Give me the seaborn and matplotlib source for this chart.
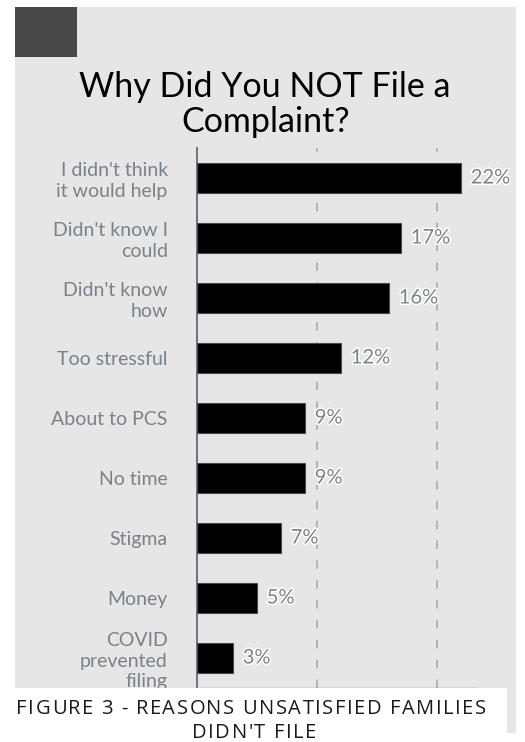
import matplotlib
matplotlib.use("Agg")
import matplotlib.pyplot as plt
import matplotlib.patheffects as pe
from matplotlib.patches import Rectangle
from matplotlib.font_manager import FontProperties
import seaborn as sns
import pandas as pd

# Survey results: reasons for not filing a complaint (percent of respondents)
reasons = [
    "I didn't think\nit would help",
    "Didn't know I\ncould",
    "Didn't know\nhow",
    "Too stressful",
    "About to PCS",
    "No time",
    "Stigma",
    "Money",
    "COVID\nprevented\nfiling",
]
percent = [22, 17, 16, 12, 9, 9, 7, 5, 3]
grid_ticks = [10, 20]

title_lines = ["Why Did You NOT File a", "Complaint?"]
caption_lines = ["FIGURE 3 - REASONS UNSATISFIED FAMILIES", "DIDN'T FILE"]

df = pd.DataFrame({"reason": reasons, "percent": percent})

W, H = 525, 742
fig = plt.figure(figsize=(W / 100, H / 100), dpi=100, facecolor="white")

def fx(px):
    return px / W

def fy(py):
    return 1 - py / H

PANEL = "#e6e6e6"
LABEL_GRAY = "#7b8188"
AXIS_GRAY = "#646a72"

# gray card behind the chart
fig.add_artist(Rectangle((fx(15), fy(733)), fx(516) - fx(15), fy(7) - fy(733),
                         transform=fig.transFigure, facecolor=PANEL,
                         edgecolor="none", zorder=-2))
# dark corner tile
fig.add_artist(Rectangle((fx(15), fy(57)), fx(77) - fx(15), fy(7) - fy(57),
                         transform=fig.transFigure, facecolor="#474747",
                         edgecolor="none", zorder=-1))

ax = fig.add_axes([fx(197), fy(688), fx(477) - fx(197), fy(148) - fy(688)])
ax.set_facecolor("none")

sns.barplot(data=df, x="percent", y="reason", orient="h", color="black",
            width=0.5, edgecolor="#4a4a4a", linewidth=0.8, ax=ax, zorder=3)

ax.set_xlim(0, 23.33)
ax.set_ylim(len(reasons) - 0.5, -0.5)
ax.set_xlabel("")
ax.set_ylabel("")
ax.set_xticks(grid_ticks)
ax.set_xticklabels([])
ax.tick_params(axis="x", length=0)
ax.tick_params(axis="y", length=0, pad=21)
for x in grid_ticks:
    ax.axvline(x, color="#a3a7ab", lw=1.1, ls=(0, (5.5, 7.5)), zorder=1)

for lab in ax.get_yticklabels():
    lab.set_fontfamily("Lato")
    lab.set_fontsize(14)
    lab.set_color(LABEL_GRAY)
    lab.set_multialignment("right")
    lab.set_linespacing(1.22)

for s in ["top", "right"]:
    ax.spines[s].set_visible(False)
ax.spines["left"].set_color(AXIS_GRAY)
ax.spines["left"].set_linewidth(1.3)
ax.spines["bottom"].set_color("#9a9ea3")
ax.spines["bottom"].set_linewidth(1.0)

labels = ax.bar_label(ax.containers[0], labels=[f"{v}%" for v in percent],
                      padding=7, fontsize=14.5, color=LABEL_GRAY,
                      fontfamily="Lato")
for t in labels:
    t.set_path_effects([pe.withStroke(linewidth=2.2, foreground="white")])

# title
fig.text(fx(265), fy(97), title_lines[0], ha="center", va="baseline",
         fontsize=24.5, fontfamily="Lato", color="black")
fig.text(fx(266), fy(132), title_lines[1], ha="center", va="baseline",
         fontsize=24.5, fontfamily="Lato", color="black")

# white caption band overlapping the chart bottom
fig.add_artist(Rectangle((0, 0), fx(507), fy(688),
                         transform=fig.transFigure, facecolor="white",
                         edgecolor="none", zorder=5))

renderer = fig.canvas.get_renderer()
cap_font = FontProperties(family="Open Sans", size=14.5)


def advance(s):
    """Horizontal advance of a string in pixels (sentinel keeps trailing spaces)."""
    w, _, _ = renderer.get_text_width_height_descent(s + "I", cap_font, ismath=False)
    w0, _, _ = renderer.get_text_width_height_descent("I", cap_font, ismath=False)
    return w - w0


def tracked_text(cx, baseline, s, tracking):
    total = advance(s) + tracking * (len(s) - 1)
    x0 = cx - total / 2
    for i, ch in enumerate(s):
        if ch == " ":
            continue
        x = x0 + advance(s[:i]) + tracking * i
        fig.text(fx(x), fy(baseline), ch, ha="left", va="baseline",
                 fontproperties=cap_font, color="#1a1a1a", zorder=6)


tracked_text(251, 714, caption_lines[0], 1.5)
tracked_text(254, 738, caption_lines[1], 1.5)

fig.savefig("out.png", dpi=100, facecolor="white")
